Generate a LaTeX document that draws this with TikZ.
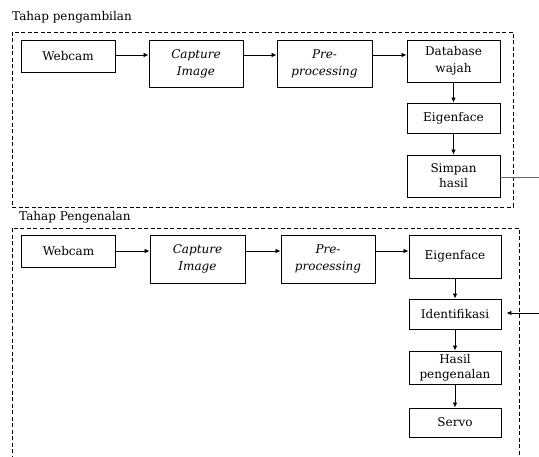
\documentclass[tikz,border=0pt]{standalone}
\usepackage{fontspec}
\setmainfont{DejaVu Serif}
\usetikzlibrary{arrows.meta}

\begin{document}
\begin{tikzpicture}[x=1pt,y=-1pt,
  blok/.style={draw, line width=0.9pt, align=center, inner sep=0pt,
    font=\fontsize{12}{17}\selectfont},
  rapat/.style={font=\fontsize{12}{15}\selectfont},
  judul/.style={anchor=west, inner sep=0pt, font=\fontsize{12}{14}\selectfont},
  batas/.style={draw, line width=0.8pt, dash pattern=on 4pt off 2.5pt},
  panah/.style={line width=0.8pt, -{Latex[length=5pt,width=4.5pt]}}]
\useasboundingbox (0,0) rectangle (539,457);
% tahap pengambilan
\node[judul] (t1) at (12,17) {Tahap pengambilan};
\draw[batas] (12,32) rectangle (513,207);
\node[blok, minimum width=94, minimum height=32] (web1) at (68,56) {Webcam};
\node[blok, minimum width=94, minimum height=47] (cap1) at (196,63.5) {\itshape Capture\\\itshape Image};
\node[blok, minimum width=95, minimum height=47] (pre1) at (324.5,63.5) {\itshape Pre-\\\itshape processing};
\node[blok, minimum width=93, minimum height=42] (db) at (453.5,61) {Database\\wajah};
\node[blok, minimum width=93, minimum height=30] (eig1) at (453.5,118) {Eigenface};
\node[blok, rapat, minimum width=93, minimum height=42] (simp) at (453.5,176) {Simpan\\hasil};
\coordinate (luar1) at (539,177);
\draw[panah] (web1.east |- 0,55) -- (cap1.west |- 0,55);
\draw[panah] (cap1.east |- 0,55) -- (pre1.west |- 0,55);
\draw[panah] (pre1.east |- 0,55) -- (db.west |- 0,55);
\draw[panah] (db) -- (eig1);
\draw[panah] (eig1) -- (simp);
\draw[line width=0.8pt, black!60] (simp.east |- luar1) -- (luar1);
% tahap pengenalan
\node[judul] (t2) at (19,217) {Tahap Pengenalan};
\draw[batas] (12,460) -- (12,228) -- (519,228) -- (519,460);
\node[blok, minimum width=94, minimum height=32] (web2) at (68.5,251) {Webcam};
\node[blok, minimum width=95, minimum height=48] (cap2) at (197.5,259) {\itshape Capture\\\itshape Image};
\node[blok, minimum width=94, minimum height=48] (pre2) at (328,259) {\itshape Pre-\\\itshape processing};
\node[blok, minimum width=92, minimum height=43] (eig2) at (455,256.5) {Eigenface};
\node[blok, minimum width=92, minimum height=30] (idf) at (455,314) {Identifikasi};
\node[blok, rapat, minimum width=92, minimum height=33] (hasil) at (455,367.5) {Hasil\\pengenalan};
\node[blok, minimum width=92, minimum height=29] (servo) at (455,422.5) {Servo};
\coordinate (luar2) at (539,313);
\draw[panah] (web2.east |- 0,251) -- (cap2.west |- 0,251);
\draw[panah] (cap2.east |- 0,251) -- (pre2.west |- 0,251);
\draw[panah] (pre2.east |- 0,251) -- (eig2.west |- 0,251);
\draw[panah] (eig2) -- (idf);
\draw[panah] (idf) -- (hasil);
\draw[panah] (hasil) -- (servo);
\draw[panah, shorten >=5pt] (luar2) -- (idf.east |- luar2);
\end{tikzpicture}
\end{document}
